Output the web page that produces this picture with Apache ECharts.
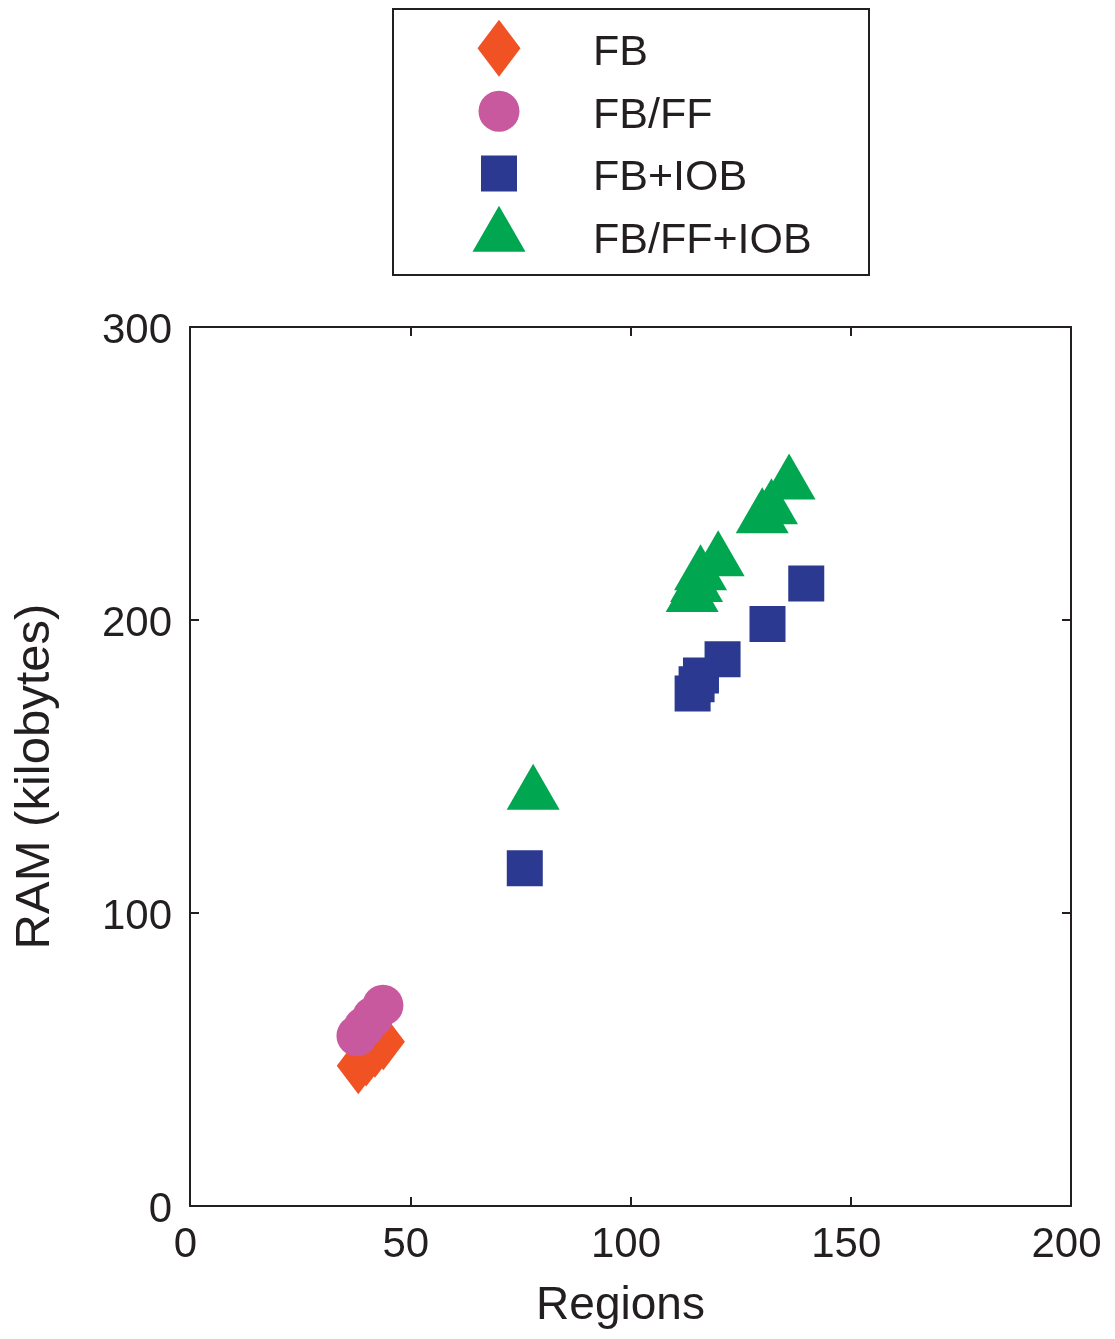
<!DOCTYPE html>
<html>
<head>
<meta charset="utf-8">
<script src="https://cdn.jsdelivr.net/npm/echarts@6/dist/echarts.min.js"></script>
<style>
  html, body { margin: 0; padding: 0; background: #fff; }
  #chart { width: 1115px; height: 1339px; }
</style>
</head>
<body>
<div id="chart"></div>
<script>
// ---- data ----
const seriesNames = ['FB', 'FB/FF', 'FB+IOB', 'FB/FF+IOB'];

const fbX = [38.2, 40.0, 42.0, 43.9];
const fbY = [47.9, 50.5, 53.5, 56.1];

const fbffX = [37.9, 39.5, 41.5, 43.8];
const fbffY = [58.1, 61.0, 64.5, 68.5];

const fbIobX = [76.0, 114.1, 115.0, 116.0, 120.9, 131.1, 139.9];
const fbIobY = [115.3, 174.9, 178.1, 181.1, 186.6, 198.6, 212.5];

const fbffIobX = [77.9, 114.0, 115.0, 115.9, 119.9, 129.9, 132.0, 136.0];
const fbffIobY = [143.1, 210.6, 214.0, 218.0, 222.8, 237.5, 240.5, 249.0];

const xTicks = [0, 50, 100, 150, 200];
const yTicks = [0, 100, 200, 300];

// ---- styling ----
const FONT = '"Liberation Sans", Arial, Helvetica, sans-serif';
const INK = '#231f20';
const colors = ['#f15223', '#c9599f', '#2b3990', '#00a650'];

const pairs = (xs, ys) => xs.map((x, i) => [x, ys[i]]);

const chart = echarts.init(document.getElementById('chart'), null, { renderer: 'canvas' });

const axisCommon = {
  type: 'value',
  axisLine: { show: true, onZero: false, lineStyle: { color: INK, width: 2 } },
  axisTick: { show: true, inside: true, length: 9, lineStyle: { color: INK, width: 2 } },
  splitLine: { show: false }
};

// legend icons: visible shape on top, plus a zero-area point below it so the
// legend text (centred on the icon box) sits a little lower than the shape
const iconDiamond = 'path://M21.5,0 L43,28.5 L21.5,57 L0,28.5 Z M21.5,67 L21.6,67 Z';
const iconCircle = 'path://M0,20.5 A20.5,20.5 0 1,1 41,20.5 A20.5,20.5 0 1,1 0,20.5 Z M20.5,51 L20.6,51 Z';
const iconSquare = 'path://M0,0 L36,0 L36,36 L0,36 Z M18,45 L18.1,45 Z';
const iconTriangle = 'path://M26.5,0 L53,46 L0,46 Z M26.5,71 L26.6,71 Z';

// legend group is positioned by its bounding box, icon is centred in itemWidth
function legendFor(name, icon, iconW, iconH, boxH, centerY) {
  return {
    show: true,
    data: [{ name: name, icon: icon }],
    left: 499 - iconW / 2,
    top: centerY - iconH / 2,
    padding: 0,
    itemWidth: 178,
    itemHeight: boxH,
    symbolKeepAspect: true,
    selectedMode: false,
    textStyle: { fontFamily: FONT, fontSize: 43, color: INK, lineHeight: 20 }
  };
}

const option = {
  backgroundColor: '#ffffff',
  animation: false,
  textStyle: { fontFamily: FONT },
  grid: { left: 190, top: 327, right: 44, bottom: 133, containLabel: false },
  legend: [
    legendFor(seriesNames[0], iconDiamond, 43, 57, 67, 48.3),
    legendFor(seriesNames[1], iconCircle, 41, 41, 51, 111.3),
    legendFor(seriesNames[2], iconSquare, 36, 36, 45, 173.5),
    legendFor(seriesNames[3], iconTriangle, 53, 46, 71, 228.8)
  ],
  graphic: [{
    type: 'rect',
    shape: { x: 393, y: 9, width: 476, height: 266 },
    style: { fill: 'none', stroke: INK, lineWidth: 2 },
    silent: true
  }],
  xAxis: [
    Object.assign({}, axisCommon, {
      position: 'bottom',
      min: xTicks[0], max: xTicks[xTicks.length - 1], interval: 50,
      name: 'Regions',
      nameLocation: 'middle',
      nameGap: 77,
      nameTextStyle: { fontFamily: FONT, fontSize: 46, color: INK, padding: [0, 20, 0, 0] },
      axisLabel: { show: true, margin: 18, fontFamily: FONT, fontSize: 42, color: INK, padding: [0, 9, 0, 0] }
    }),
    Object.assign({}, axisCommon, {
      position: 'top',
      min: xTicks[0], max: xTicks[xTicks.length - 1], interval: 50,
      axisLabel: { show: false }
    })
  ],
  yAxis: [
    Object.assign({}, axisCommon, {
      position: 'left',
      min: yTicks[0], max: yTicks[yTicks.length - 1], interval: 100,
      name: 'RAM (kilobytes)',
      nameLocation: 'middle',
      nameGap: 130,
      nameTextStyle: { fontFamily: FONT, fontSize: 49, color: INK, padding: [0, 20, 0, 0] },
      axisLabel: {
        show: true, margin: 18, fontFamily: FONT, fontSize: 42, color: INK,
        verticalAlign: 'top', lineHeight: 9
      }
    }),
    Object.assign({}, axisCommon, {
      position: 'right',
      min: yTicks[0], max: yTicks[yTicks.length - 1], interval: 100,
      axisLabel: { show: false }
    })
  ],
  series: [
    {
      name: seriesNames[0], type: 'scatter', xAxisIndex: 0, yAxisIndex: 0,
      symbol: 'diamond', symbolSize: [43, 57],
      itemStyle: { color: colors[0], opacity: 1 },
      data: pairs(fbX, fbY)
    },
    {
      name: seriesNames[1], type: 'scatter', xAxisIndex: 0, yAxisIndex: 0,
      symbol: 'circle', symbolSize: 41,
      itemStyle: { color: colors[1], opacity: 1 },
      data: pairs(fbffX, fbffY)
    },
    {
      name: seriesNames[2], type: 'scatter', xAxisIndex: 0, yAxisIndex: 0,
      symbol: 'rect', symbolSize: 36,
      itemStyle: { color: colors[2], opacity: 1 },
      data: pairs(fbIobX, fbIobY)
    },
    {
      name: seriesNames[3], type: 'scatter', xAxisIndex: 0, yAxisIndex: 0,
      symbol: 'triangle', symbolSize: [53, 46],
      itemStyle: { color: colors[3], opacity: 1 },
      data: pairs(fbffIobX, fbffIobY)
    }
  ]
};

chart.setOption(option);
</script>
</body>
</html>
